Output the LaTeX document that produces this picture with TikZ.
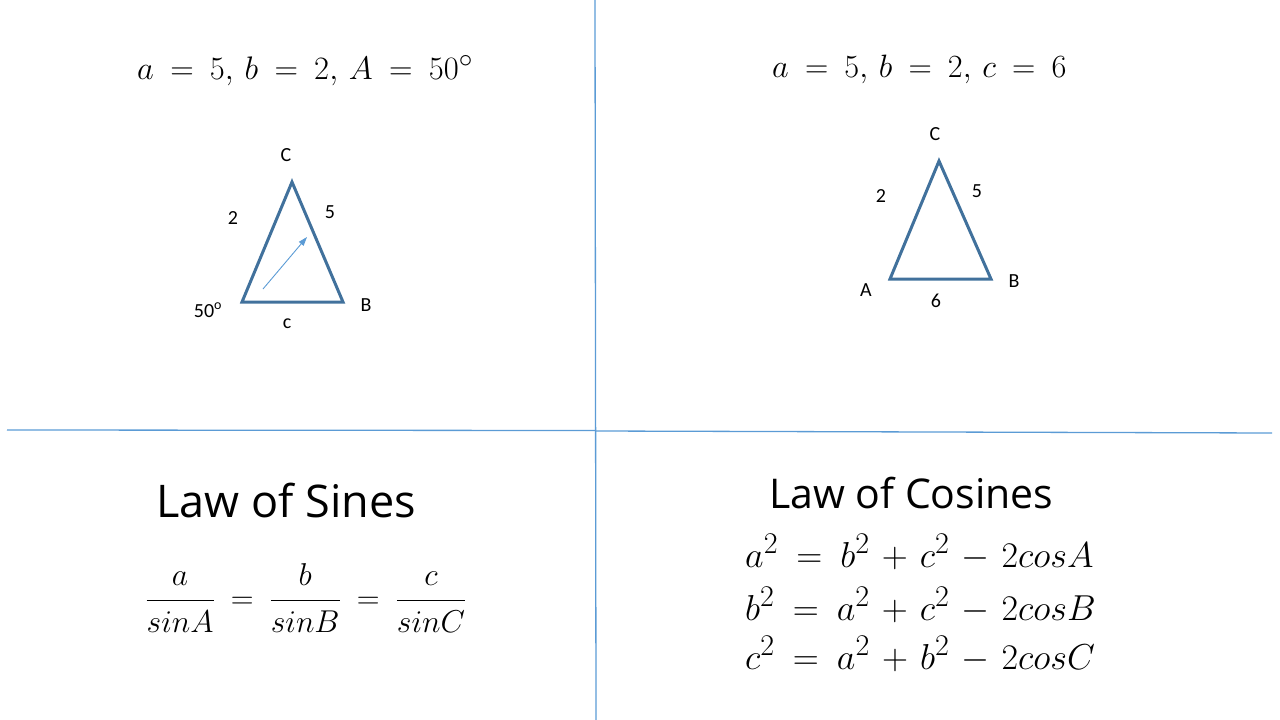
\documentclass[tikz,border=0pt]{standalone}
\usepackage{fontspec}
\newfontfamily\labfont{Carlito}
\newfontfamily\ttlfont{Open Sans}
\usetikzlibrary{arrows.meta}
\definecolor{tricol}{HTML}{41719C}
\definecolor{rulecol}{HTML}{5B9BD5}
\newcommand\fracsp[2]{\frac{\rule[-10pt]{0pt}{0pt}#1}{\rule{0pt}{24pt}#2}}
\newcommand\opsp{\mskip 2mu}
\begin{document}
\begin{tikzpicture}[x=1pt,y=-1pt,
  lbl/.style={font=\labfont\fontsize{20}{24}\selectfont, inner sep=0pt},
  ttl/.style={font=\ttlfont\fontsize{#1}{#1}\selectfont, inner sep=0pt, anchor=base west},
  eqn/.style={font=\fontsize{24.88}{30}\selectfont, inner sep=0pt, anchor=base west},
  divider/.style={draw=rulecol, line width=1.3pt},
  tri/.style={draw=tricol, line width=3pt, line join=miter},
  ptr/.style={draw=rulecol, line width=0.9pt, -{Triangle[length=9pt,width=6pt]}}]
\useasboundingbox (0,0) rectangle (1280,720);

% dividers
\coordinate (vt) at (595,0);
\coordinate (vb) at (596,720);
\coordinate (hl) at (7,430);
\coordinate (hm) at (595,430.5);
\coordinate (hm2) at (596,431);
\coordinate (hr) at (1272,433);
\draw[divider] (vt) -- (vb);
\draw[divider] (hl) -- (hm);
\draw[divider] (hm2) -- (hr);

% top-left
\node[eqn] (g1) at (137,79) {\scalebox{1.31}{$a\:=\:5,\, b\:=\:2,\, A\:=\:50^{\circ}$}};
\coordinate (A1) at (242,302);
\coordinate (B1) at (343,302);
\coordinate (C1) at (292,182);
\draw[tri] (A1) -- (B1) -- (C1) -- cycle;
\coordinate (p1) at (263,289);
\coordinate (p2) at (307,237);
\draw[ptr] (p1) -- (p2);
\node[lbl] (lC1) at (286,155) {C};
\node[lbl] (l21) at (233,218) {2};
\node[lbl] (l51) at (330,212) {5};
\node[lbl] (lang) at (208,310) {50\textsuperscript{o}};
\node[lbl] (lc1) at (287,324) {c};
\node[lbl] (lB1) at (366,305) {B};

% top-right
\node[eqn] (g2) at (772,77) {\scalebox{1.30}{$a\:=\:5,\, b\:=\:2,\, c\:=\:6$}};
\coordinate (A2) at (890,279);
\coordinate (B2) at (991,279);
\coordinate (C2) at (939,161);
\draw[tri] (A2) -- (B2) -- (C2) -- cycle;
\node[lbl] (lC2) at (935,134) {C};
\node[lbl] (l22) at (881,196) {2};
\node[lbl] (l52) at (977,191) {5};
\node[lbl] (lA2) at (866,290) {A};
\node[lbl] (l62) at (936,301) {6};
\node[lbl] (lB2) at (1014,281) {B};

% bottom-left
\node[ttl=45] (sines) at (156,517) {Law of Sines};
\node[eqn] (sfrac) at (145,608) {\scalebox{1.27}{$\displaystyle\fracsp{a}{sinA}\:=\:\fracsp{b}{sinB}\:=\:\fracsp{c}{sinC}$}};

% bottom-right
\node[ttl=41] (cosines) at (769,508) {Law of Cosines};
\node[eqn] (c1) at (745,567) {\scalebox{1.45}{$a^2\:=\:b^2\opsp+\opsp c^2\opsp-\opsp 2cosA$}};
\node[eqn] (c2) at (745,620) {\scalebox{1.45}{$b^2\:=\:a^2\opsp+\opsp c^2\opsp-\opsp 2cosB$}};
\node[eqn] (c3) at (745,669) {\scalebox{1.45}{$c^2\:=\:a^2\opsp+\opsp b^2\opsp-\opsp 2cosC$}};
\end{tikzpicture}
\end{document}
